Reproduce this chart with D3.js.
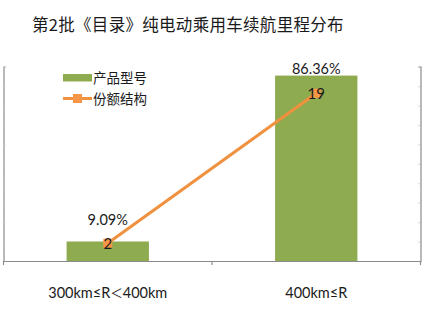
<!DOCTYPE html>
<html>
<head>
<meta charset="utf-8">
<script src="https://cdn.jsdelivr.net/npm/d3@7"></script>
<style>
  body { margin: 0; background: #fff; }
  svg { display: block; }
  text { font-family: Lato, "Noto Sans CJK SC", sans-serif; fill: #1a1a1a; }
</style>
</head>
<body>
<div id="chart"></div>
<script>
// 데이터
const categories = ["300km≤R＜400km", "400km≤R"];
const shareValues = [0.0909, 0.8636];   // 막대: 产品型号 비율
const countValues = [2, 19];            // 선: 份额结构 (车型数)
const shareLabels = ["9.09%", "86.36%"];
const legendNames = ["产品型号", "份额结构"];
const titleText = "第2批《目录》纯电动乘用车续航里程分布";

const W = 425, H = 309;
const plot = { left: 3.5, right: 420.5, top: 66.7, bottom: 261 };

const svg = d3.select("#chart").append("svg")
  .attr("width", W).attr("height", H);

// 제목
svg.append("text")
  .attr("x", 32).attr("y", 31)
  .style("font-family", "'Noto Sans CJK SC', sans-serif")
  .style("font-size", "16.5px")
  .style("letter-spacing", "0.3px")
  .text(titleText);

const x = d3.scaleBand().domain(categories)
  .range([plot.left, plot.right]).paddingInner(0).paddingOuter(0);
const yL = d3.scaleLinear().domain([0, 0.905]).range([plot.bottom, plot.top]);
const yR = d3.scaleLinear().domain([0, 22]).range([plot.bottom, plot.top]);

const axisColor = "#8c8c8c";

// 좌우 축 (눈금 10칸, 라벨 없음)
const leftAxis = d3.axisRight(yL).tickValues(d3.range(11).map(i => i * 0.905 / 10))
  .tickSize(2).tickFormat("");
const rightAxis = d3.axisLeft(yR).tickValues(d3.range(11).map(i => i * 2.2))
  .tickSize(2).tickFormat("");

const gl = svg.append("g").attr("transform", `translate(${plot.left},0)`).call(leftAxis);
const gr = svg.append("g").attr("transform", `translate(${plot.right},0)`).call(rightAxis);
[gl, gr].forEach(g => {
  g.select(".domain").attr("stroke", axisColor).attr("stroke-width", 1.2);
  g.selectAll(".tick line").attr("stroke", "#c8c8c8");
});

// 막대
const barW = x.bandwidth() * 0.395;
svg.append("g").selectAll("rect")
  .data(categories)
  .join("rect")
  .attr("x", (d) => x(d) + (x.bandwidth() - barW) / 2)
  .attr("width", barW)
  .attr("y", (d, i) => yL(shareValues[i]))
  .attr("height", (d, i) => yL(0) - yL(shareValues[i]))
  .attr("fill", "#8fab50");

// x축
const bottomAxis = d3.axisBottom(x).tickSize(0).tickFormat(d => d);
const gb = svg.append("g").attr("transform", `translate(0,${plot.bottom})`).call(bottomAxis);
gb.select(".domain").attr("stroke", axisColor).attr("stroke-width", 1.2);
gb.selectAll(".tick text")
  .attr("y", 27)
  .style("font-size", "14.5px")
  .style("font-family", "Lato, 'Noto Sans CJK SC', sans-serif")
  .attr("fill", "#1a1a1a")
  .each(function(d) {
    // ＜ 는 작게 (원본 글꼴처럼)
    const parts = d.split("＜");
    if (parts.length < 2) return;
    const t = d3.select(this).text("");
    t.append("tspan").text(parts[0]);
    t.append("tspan").style("font-size", "12.5px").attr("dy", -0.5).text("＜");
    t.append("tspan").attr("dy", 0.5).text(parts[1]);
  });
// 구분 눈금
svg.append("g").selectAll("line")
  .data([plot.left, x(categories[1]), plot.right])
  .join("line")
  .attr("x1", d => d).attr("x2", d => d)
  .attr("y1", plot.bottom).attr("y2", plot.bottom + 4)
  .attr("stroke", axisColor).attr("stroke-width", 1.2);

// 막대 라벨
const labelLift = [15, 1];
svg.append("g").selectAll("text")
  .data(shareLabels)
  .join("text")
  .attr("x", (d, i) => x(categories[i]) + x.bandwidth() / 2)
  .attr("y", (d, i) => yL(shareValues[i]) - labelLift[i] - 1)
  .attr("text-anchor", "middle")
  .style("font-size", "14.5px")
  .text(d => d);

// 선
const cx = (i) => x(categories[i]) + x.bandwidth() / 2;
const line = d3.line().x((d, i) => cx(i)).y(d => yR(d));
svg.append("path")
  .datum(countValues)
  .attr("d", line)
  .attr("fill", "none")
  .attr("stroke", "#f0913f")
  .attr("stroke-width", 3);

svg.append("g").selectAll("rect")
  .data(countValues)
  .join("rect")
  .attr("x", (d, i) => cx(i) - 4.5)
  .attr("y", d => yR(d) - 4.5)
  .attr("width", 9).attr("height", 9)
  .attr("fill", "#f79646");

svg.append("g").selectAll("text")
  .data(countValues)
  .join("text")
  .attr("x", (d, i) => cx(i))
  .attr("y", d => yR(d) + 6)
  .attr("text-anchor", "middle")
  .style("font-size", "15px")
  .text(d => d);

// 범례
const lg = svg.append("g");
lg.append("rect").attr("x", 63).attr("y", 74).attr("width", 29).attr("height", 7.5).attr("fill", "#8fab50");
lg.append("line").attr("x1", 63).attr("x2", 92).attr("y1", 98.5).attr("y2", 98.5)
  .attr("stroke", "#f0913f").attr("stroke-width", 3);
lg.append("rect").attr("x", 73).attr("y", 94).attr("width", 9).attr("height", 9).attr("fill", "#f79646");
lg.selectAll("text")
  .data(legendNames)
  .join("text")
  .attr("x", 93)
  .attr("y", (d, i) => 82.5 + i * 21)
  .style("font-family", "'Noto Sans CJK SC', sans-serif")
  .style("font-size", "13.5px")
  .text(d => d);
</script>
</body>
</html>
